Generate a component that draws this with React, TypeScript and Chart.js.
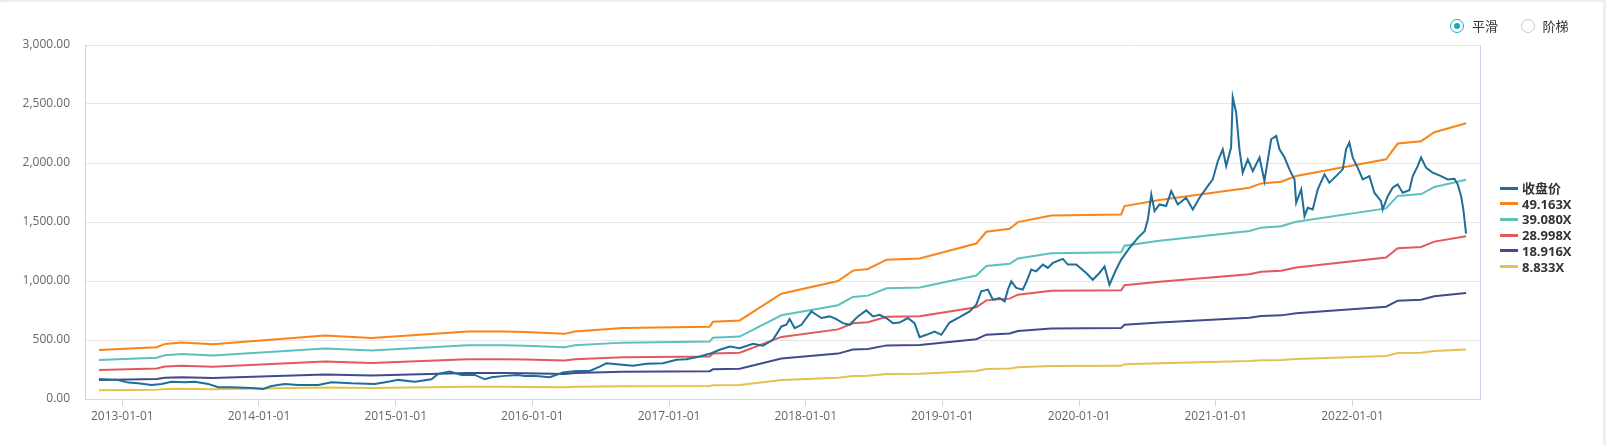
import React, { useEffect, useRef } from 'react';
import { Chart, registerables } from 'chart.js';

Chart.register(...registerables);

// ---- data (x as decimal year) ----
const priceYears = [
  2012.829, 2012.97, 2013.043, 2013.116, 2013.214, 2013.287, 2013.361, 2013.458, 2013.531, 2013.628,
  2013.701, 2013.799, 2013.946, 2014.03, 2014.092, 2014.189, 2014.286, 2014.433, 2014.531, 2014.677,
  2014.847, 2014.945, 2015.018, 2015.14, 2015.262, 2015.31, 2015.396, 2015.481, 2015.579, 2015.652,
  2015.701, 2015.798, 2015.895, 2015.944, 2016.005, 2016.127, 2016.224, 2016.322, 2016.42, 2016.493,
  2016.542, 2016.639, 2016.736, 2016.834, 2016.956, 2017.054, 2017.127, 2017.224, 2017.31, 2017.37,
  2017.444, 2017.517, 2017.614, 2017.687, 2017.76, 2017.822, 2017.858, 2017.882, 2017.919, 2017.968,
  2018.041, 2018.078, 2018.114, 2018.175, 2018.224, 2018.272, 2018.321, 2018.382, 2018.443, 2018.492,
  2018.54, 2018.589, 2018.638, 2018.687, 2018.747, 2018.796, 2018.833, 2018.882, 2018.943, 2018.992,
  2019.052, 2019.126, 2019.199, 2019.248, 2019.284, 2019.333, 2019.369, 2019.418, 2019.455, 2019.479,
  2019.504, 2019.54, 2019.588, 2019.613, 2019.65, 2019.686, 2019.735, 2019.771, 2019.808, 2019.881,
  2019.918, 2019.979, 2020.052, 2020.1, 2020.149, 2020.186, 2020.222, 2020.271, 2020.308, 2020.369,
  2020.43, 2020.479, 2020.503, 2020.528, 2020.552, 2020.588, 2020.637, 2020.674, 2020.722, 2020.783,
  2020.832, 2020.881, 2020.941, 2020.978, 2021.015, 2021.051, 2021.076, 2021.112, 2021.124, 2021.149,
  2021.173, 2021.197, 2021.234, 2021.271, 2021.32, 2021.356, 2021.405, 2021.442, 2021.466, 2021.503,
  2021.539, 2021.576, 2021.588, 2021.625, 2021.649, 2021.673, 2021.709, 2021.746, 2021.795, 2021.831,
  2021.88, 2021.929, 2021.953, 2021.977, 2022.002, 2022.038, 2022.075, 2022.124, 2022.16, 2022.209,
  2022.221, 2022.258, 2022.294, 2022.331, 2022.367, 2022.416, 2022.441, 2022.477, 2022.502, 2022.538,
  2022.587, 2022.648, 2022.697, 2022.746, 2022.77, 2022.795, 2022.811, 2022.831,
];
const priceValues = [
  170, 161, 139, 133, 119, 128, 147, 142, 147, 128,
  99, 99, 94, 85, 110, 128, 119, 119, 142, 133,
  128, 147, 162, 147, 167, 212, 232, 204, 204, 167,
  184, 196, 204, 195, 196, 184, 224, 238, 238, 275,
  303, 292, 281, 298, 303, 332, 337, 360, 388, 417,
  445, 431, 468, 451, 502, 615, 629, 677, 601, 629,
  742, 714, 686, 700, 677, 643, 629, 700, 751, 700,
  714, 686, 643, 648, 686, 643, 524, 544, 572, 544,
  648, 694, 742, 799, 912, 927, 842, 856, 827, 927,
  997, 941, 927, 989, 1097, 1082, 1139, 1111, 1153, 1187,
  1139, 1139, 1068, 1011, 1068, 1124, 969, 1097, 1181, 1281,
  1366, 1422, 1521, 1734, 1592, 1649, 1635, 1762, 1649, 1706,
  1606, 1706, 1804, 1861, 2017, 2116, 1974, 2131, 2556, 2428,
  2116, 1918, 2031, 1932, 2046, 1847, 2201, 2229, 2116, 2046,
  1946, 1861, 1663, 1776, 1549, 1620, 1606, 1776, 1904, 1833,
  1889, 1946, 2116, 2173, 2046, 1961, 1861, 1889, 1748, 1677,
  1606, 1719, 1791, 1819, 1748, 1770, 1889, 1974, 2046, 1961,
  1918, 1889, 1861, 1867, 1819, 1719, 1606, 1402,
];

// TTM earnings per share (adjusted), vertices of the PE band lines
const epsYears = [
  2012.829, 2013.251, 2013.312, 2013.434, 2013.663, 2014.482, 2014.823, 2015.527, 2015.798, 2015.944,
  2016.237, 2016.31, 2016.661, 2017.297, 2017.321, 2017.517, 2017.822, 2018.236, 2018.345, 2018.455,
  2018.592, 2018.833, 2019.248, 2019.321, 2019.492, 2019.552, 2019.796, 2020.308, 2020.332, 2020.588,
  2021.246, 2021.332, 2021.478, 2021.588, 2022.246, 2022.331, 2022.502, 2022.599, 2022.831,
];
const epsValues = [
  8.462, 8.93, 9.499, 9.743, 9.458, 10.943, 10.536, 11.635, 11.635, 11.533,
  11.228, 11.635, 12.225, 12.448, 13.303, 13.547, 18.144, 20.341, 22.13, 22.415,
  24.022, 24.205, 26.789, 28.823, 29.331, 30.49, 31.63, 31.813, 33.257, 34.294,
  36.43, 37.162, 37.467, 38.444, 41.332, 44.037, 44.444, 45.99, 47.536,
];

const bandMultiples = [49.163, 39.08, 28.998, 18.916, 8.833];
const seriesNames = ['收盘价', '49.163X', '39.080X', '28.998X', '18.916X', '8.833X'];
const seriesColors = ['#1f6e9a', '#fa8418', '#5cc0bd', '#e3585d', '#414b8b', '#e6c14f'];
const yTicks = [0, 500, 1000, 1500, 2000, 2500, 3000];
const xTickYears = [2013, 2014, 2015, 2016, 2017, 2018, 2019, 2020, 2021, 2022];
const modeOptions = ['平滑', '阶梯'];

const X_MIN = 2012.727;
const X_MAX = 2022.933;

export default function App() {
  const canvasRef = useRef<HTMLCanvasElement | null>(null);

  useEffect(() => {
    const canvas = canvasRef.current;
    if (!canvas) return;
    const datasets: any[] = [
      {
        label: seriesNames[0],
        data: priceYears.map((x, i) => ({ x, y: priceValues[i] })),
        borderColor: seriesColors[0],
        backgroundColor: seriesColors[0],
        borderWidth: 2,
        pointRadius: 0,
        tension: 0,
      },
      ...bandMultiples.map((m, k) => ({
        label: seriesNames[k + 1],
        data: epsYears.map((x, i) => ({ x, y: epsValues[i] * m })),
        borderColor: seriesColors[k + 1],
        backgroundColor: seriesColors[k + 1],
        borderWidth: 2,
        pointRadius: 0,
        tension: 0,
      })),
    ];
    const chart = new Chart(canvas, {
      type: 'line',
      data: { datasets },
      options: {
        animation: false,
        responsive: false,
        maintainAspectRatio: false,
        layout: { padding: { left: 0, right: 123, top: 43, bottom: 0 } },
        plugins: { legend: { display: false }, tooltip: { enabled: false } },
        scales: {
          x: {
            type: 'linear',
            min: X_MIN,
            max: X_MAX,
            afterBuildTicks: (scale: any) => {
              scale.ticks = xTickYears.map((v) => ({ value: v }));
            },
            afterFit: (scale: any) => {
              scale.height = 46;
            },
            ticks: {
              autoSkip: false,
              maxRotation: 0,
              padding: 3,
              color: '#666666',
              font: { family: 'Open Sans', size: 12 },
              callback: (v: any) => `${v}-01-01`,
            },
            grid: {
              drawOnChartArea: false,
              drawTicks: true,
              tickLength: 7,
              color: '#ccd6eb',
            },
            border: { color: '#ccd6eb', width: 1 },
          },
          y: {
            type: 'linear',
            position: 'left',
            min: 0,
            max: 3000,
            afterBuildTicks: (scale: any) => {
              scale.ticks = yTicks.map((v) => ({ value: v }));
            },
            afterFit: (scale: any) => {
              scale.width = 85;
            },
            ticks: {
              padding: 15,
              color: '#666666',
              font: { family: 'Open Sans', size: 12 },
              callback: (v: any) =>
                Number(v).toLocaleString('en-US', { minimumFractionDigits: 2, maximumFractionDigits: 2 }),
            },
            grid: { color: '#e6e6e6', drawTicks: false },
            border: { color: '#ccd6eb', width: 1 },
          },
          yRight: {
            type: 'linear',
            position: 'right',
            min: 0,
            max: 3000,
            ticks: { display: false },
            grid: { display: false, drawTicks: false },
            border: { color: '#ccd6eb', width: 1 },
            afterFit: (scale: any) => {
              scale.width = 0;
            },
          },
        },
      },
    } as any);
    return () => chart.destroy();
  }, []);

  const legendTop = 188;
  const legendStep = 15.7;

  return (
    <div
      style={{
        position: 'fixed',
        left: 0,
        top: 0,
        width: 1606,
        height: 445,
        background: '#eceef1',
        overflow: 'hidden',
        fontFamily: '"Noto Sans CJK SC", "Open Sans", sans-serif',
      }}
    >
      <div
        style={{
          position: 'absolute',
          left: 0,
          top: 2,
          width: 1603,
          height: 450,
          background: '#ffffff',
          borderRadius: 3,
        }}
      >
        <canvas ref={canvasRef} width={1603} height={443} style={{ position: 'absolute', left: 0, top: 0, width: 1603, height: 443 }} />
        {modeOptions.map((name, i) => {
          const cx = i === 0 ? 1457 : 1527.5;
          const selected = i === 0;
          return (
            <div key={name} style={{ position: 'absolute', left: cx - 7, top: 23.7 - 7, height: 14, display: 'flex', alignItems: 'center' }}>
              <span
                style={{
                  boxSizing: 'border-box',
                  width: 14,
                  height: 14,
                  borderRadius: '50%',
                  border: `1px solid ${selected ? '#1aa9c4' : '#c9c9c9'}`,
                  background: '#fff',
                  display: 'inline-flex',
                  alignItems: 'center',
                  justifyContent: 'center',
                }}
              >
                {selected ? <span style={{ width: 6, height: 6, borderRadius: '50%', background: '#1aa9c4' }} /> : null}
              </span>
              <span style={{ marginLeft: 8, fontSize: 13, color: '#333', lineHeight: '14px', fontFamily: '"Noto Sans CJK SC", sans-serif' }}>{name}</span>
            </div>
          );
        })}
        {seriesNames.map((name, i) => (
          <div
            key={name}
            style={{
              position: 'absolute',
              left: 1500,
              top: legendTop - 2 + i * legendStep - 8,
              height: 16,
              display: 'flex',
              alignItems: 'center',
            }}
          >
            <span style={{ width: 18, height: 3, background: seriesColors[i], display: 'inline-block' }} />
            <span
              style={{
                marginLeft: 4,
                fontSize: 13,
                fontWeight: 700,
                color: '#333',
                lineHeight: '16px',
                fontFamily: '"Open Sans", "Noto Sans CJK SC", sans-serif',
              }}
            >
              {name}
            </span>
          </div>
        ))}
      </div>
    </div>
  );
}
